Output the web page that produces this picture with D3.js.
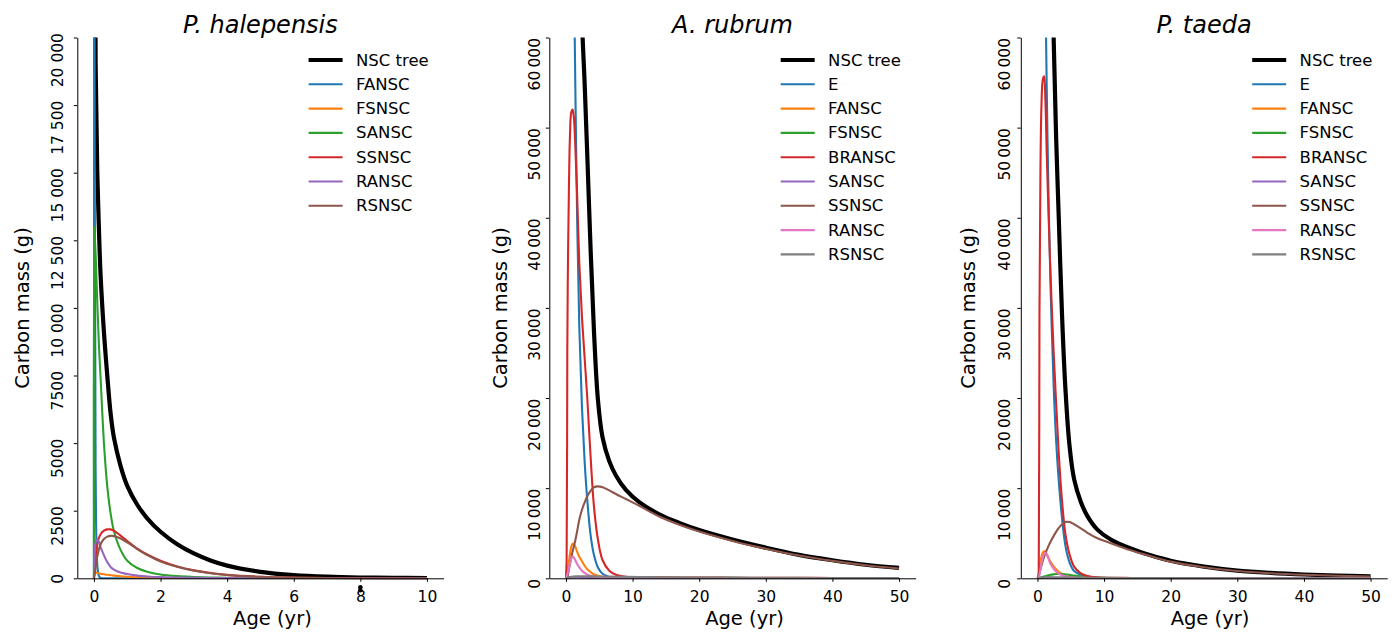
<!DOCTYPE html>
<html><head><meta charset="utf-8">
<script src="https://cdn.jsdelivr.net/npm/d3@7"></script>
<style>body{margin:0;background:#fff} svg{display:block} text{font-family:"DejaVu Sans",sans-serif}</style>
</head><body>
<svg id="chart" width="1394" height="633"></svg>
<script>
// ---------------- DATA ----------------
// P. halepensis
const tHal = [0, 0.01, 0.02, 0.05, 0.1, 0.15, 0.2, 0.3, 0.4, 0.5, 0.6, 0.8, 1, 1.3, 1.6, 2, 2.5, 3, 3.5, 4, 5, 6, 7, 8, 9, 10];
const namesHal = ["NSC tree", "FANSC", "FSNSC", "SANSC", "SSNSC", "RANSC", "RSNSC"];
const halNSCtree = [70000, 45000, 32000, 19000, 15000, 12900, 11200, 9100, 7500, 6100, 5200, 4150, 3420, 2720, 2220, 1720, 1260, 920, 660, 470, 240, 120, 60, 30, 16, 9];
const halFANSC = [0, 40000, 18000, 4000, 500, 80, 10, 0, 0, 0, 0, 0, 0, 0, 0, 0, 0, 0, 0, 0, 0, 0, 0, 0, 0, 0];
const halFSNSC = [0, 120, 180, 220, 200, 185, 170, 150, 130, 115, 100, 75, 55, 35, 22, 12, 6, 3, 2, 1, 0, 0, 0, 0, 0, 0];
const halSANSC = [0, 13000, 12800, 12000, 10200, 8600, 7400, 5000, 3400, 2400, 1750, 1050, 650, 380, 240, 140, 80, 50, 30, 20, 8, 4, 2, 1, 0, 0];
const halSSNSC = [0, 180, 350, 800, 1250, 1500, 1630, 1760, 1810, 1810, 1760, 1580, 1380, 1100, 880, 650, 440, 295, 195, 128, 56, 25, 11, 5, 2, 1];
const halRANSC = [0, 500, 900, 1300, 1420, 1350, 1150, 850, 600, 420, 320, 210, 160, 100, 68, 42, 26, 16, 10, 6, 3, 1, 0, 0, 0, 0];
const halRSNSC = [0, 70, 150, 400, 800, 1080, 1260, 1450, 1540, 1570, 1560, 1470, 1330, 1080, 860, 625, 425, 285, 188, 124, 54, 24, 10, 4, 2, 1];
const halMarkerT = [8, 8];
const halMarkerV = [-330, -440];
const xTicksHal = [0, 2, 4, 6, 8, 10];
const yTicksHal = [0, 2500, 5000, 7500, 10000, 12500, 15000, 17500, 20000];
const yLabelsHal = ["0", "2500", "5000", "7500", "10 000", "12 500", "15 000", "17 500", "20 000"];

// A. rubrum and P. taeda share the time grid
const tLong = [0, 0.1, 0.2, 0.3, 0.45, 0.6, 0.8, 1, 1.2, 1.4, 1.7, 2, 2.4, 2.8, 3.2, 3.7, 4.2, 4.8, 5.5, 6.5, 7.5, 9, 11, 14, 17, 20, 25, 30, 35, 40, 45, 50];
const namesLong = ["NSC tree", "E", "FANSC", "FSNSC", "BRANSC", "SANSC", "SSNSC", "RANSC", "RSNSC"];

const rubNSCtree = [300000, 290000, 280000, 265000, 245000, 220000, 190000, 160000, 133000, 112000, 90000, 76000, 62000, 55000, 47000, 36500, 27500, 19800, 15600, 13000, 11400, 9800, 8450, 7100, 6150, 5350, 4300, 3400, 2600, 2000, 1500, 1150];
const rubE = [280000, 250000, 225000, 200000, 170000, 142000, 112000, 88000, 68000, 55000, 39000, 28000, 19000, 13000, 8700, 4800, 2600, 1200, 500, 150, 45, 8, 0, 0, 0, 0, 0, 0, 0, 0, 0, 0];
const rubFANSC = [0, 200, 600, 1100, 1900, 2700, 3500, 3850, 3800, 3500, 2900, 2400, 1900, 1400, 1000, 700, 450, 280, 160, 90, 60, 40, 30, 25, 20, 18, 15, 13, 11, 10, 9, 8];
const rubFSNSC = [0, 10, 25, 40, 60, 80, 100, 115, 125, 135, 145, 150, 150, 148, 145, 140, 135, 128, 120, 110, 102, 92, 82, 70, 60, 52, 42, 34, 28, 23, 19, 16];
const rubBRANSC = [0, 2000, 25000, 35000, 43500, 49000, 51700, 52000, 51000, 48000, 42000, 35000, 29000, 24500, 20000, 13500, 8000, 4300, 2000, 850, 400, 180, 120, 100, 90, 80, 65, 55, 45, 40, 35, 30];
const rubSANSC = [0, 30, 60, 80, 100, 110, 115, 115, 110, 105, 95, 85, 75, 65, 55, 45, 38, 32, 27, 22, 19, 16, 14, 12, 10, 9, 8, 7, 6, 5, 5, 4];
const rubSSNSC = [0, 0, 100, 400, 1000, 1600, 2300, 3000, 3600, 4200, 5300, 6500, 7600, 8400, 9100, 9700, 10100, 10200, 10100, 9750, 9350, 8800, 8050, 6850, 5950, 5200, 4150, 3280, 2520, 1930, 1450, 1080];
const rubRANSC = [0, 150, 400, 700, 1200, 1700, 2200, 2450, 2300, 2000, 1550, 1200, 850, 600, 420, 280, 200, 140, 100, 75, 60, 50, 45, 40, 37, 35, 30, 27, 24, 21, 19, 17];
const rubRSNSC = [0, 20, 50, 80, 110, 140, 170, 190, 205, 215, 225, 230, 232, 230, 226, 220, 214, 206, 198, 186, 175, 160, 142, 120, 102, 88, 70, 56, 45, 36, 29, 23];

const taeNSCtree = [270000, 250000, 230000, 215000, 200000, 185000, 162000, 142000, 122000, 104000, 87000, 74000, 61000, 49000, 40000, 29000, 21000, 14800, 11000, 8500, 6900, 5400, 4300, 3300, 2550, 1950, 1300, 860, 600, 420, 300, 220];
const taeE = [250000, 225000, 200000, 180000, 155000, 130000, 103000, 82000, 66000, 54000, 41000, 31500, 22000, 15300, 10800, 6600, 3600, 1800, 800, 380, 160, 40, 8, 0, 0, 0, 0, 0, 0, 0, 0, 0];
const taeFANSC = [0, 300, 700, 1100, 1800, 2400, 2850, 3000, 2900, 2700, 2200, 1800, 1350, 1000, 720, 480, 320, 200, 120, 70, 45, 30, 20, 15, 12, 10, 8, 7, 6, 5, 5, 5];
const taeFSNSC = [0, 10, 30, 50, 80, 110, 160, 210, 250, 290, 350, 400, 440, 470, 480, 470, 440, 380, 300, 200, 130, 70, 35, 15, 8, 5, 3, 2, 1, 1, 0, 0];
const taeBRANSC = [0, 0, 2000, 29000, 45400, 52400, 55300, 55700, 52800, 47000, 39500, 33000, 25600, 19500, 13800, 8500, 4900, 2700, 1300, 560, 260, 110, 60, 40, 30, 25, 20, 16, 13, 10, 8, 6];
const taeSANSC = [0, 5, 15, 25, 40, 55, 65, 70, 70, 68, 62, 55, 48, 40, 34, 27, 22, 17, 13, 10, 8, 6, 5, 4, 3, 3, 2, 2, 2, 1, 1, 1];
const taeSSNSC = [0, 100, 300, 550, 1000, 1400, 1950, 2400, 2800, 3150, 3650, 4100, 4650, 5150, 5600, 6000, 6250, 6250, 6000, 5550, 5050, 4450, 3900, 3100, 2450, 1850, 1230, 810, 560, 390, 275, 200];
const taeRANSC = [0, 0, 100, 350, 1000, 1700, 2300, 2700, 2800, 2600, 2100, 1550, 1100, 750, 520, 330, 220, 140, 90, 55, 35, 22, 15, 10, 8, 6, 5, 4, 3, 3, 2, 2];
const taeRSNSC = [0, 5, 15, 30, 50, 70, 90, 105, 115, 120, 125, 125, 122, 118, 113, 106, 100, 92, 84, 74, 66, 56, 46, 36, 29, 23, 16, 11, 8, 6, 4, 3];

const xTicksLong = [0, 10, 20, 30, 40, 50];
const yTicksLong = [0, 10000, 20000, 30000, 40000, 50000, 60000];
const yLabelsLong = ["0", "10\u2009000", "20\u2009000", "30\u2009000", "40\u2009000", "50\u2009000", "60\u2009000"];

const titles = ["P. halepensis", "A. rubrum", "P. taeda"];
const palette = ["#000000", "#1f77b4", "#ff7f0e", "#2ca02c", "#d62728", "#9467bd", "#8c564b", "#e377c2", "#7f7f7f"];

// ---------------- BUILD ----------------
const panels = [
  {title: titles[0], t: tHal, names: namesHal, series: [halNSCtree, halFANSC, halFSNSC, halSANSC, halSSNSC, halRANSC, halRSNSC],
   xDomain: [-0.5, 10.5], yMax: 20000, xTicks: xTicksHal, yTicks: yTicksHal, yLabels: yLabelsHal},
  {title: titles[1], t: tLong, names: namesLong, series: [rubNSCtree, rubE, rubFANSC, rubFSNSC, rubBRANSC, rubSANSC, rubSSNSC, rubRANSC, rubRSNSC],
   xDomain: [-2.5, 52.5], yMax: 60000, xTicks: xTicksLong, yTicks: yTicksLong, yLabels: yLabelsLong},
  {title: titles[2], t: tLong, names: namesLong, series: [taeNSCtree, taeE, taeFANSC, taeFSNSC, taeBRANSC, taeSANSC, taeSSNSC, taeRANSC, taeRSNSC],
   xDomain: [-2.5, 52.5], yMax: 60000, xTicks: xTicksLong, yTicks: yTicksLong, yLabels: yLabelsLong}
];

// layout (positions only)
const frames = [
  {x0: 77.3, x1: 443.6, labDx: 19, labDy: -5, ttlDx: 55, xlabDx: 12},
  {x0: 549.3, x1: 915.7, labDx: 14.5, labDy: 0, ttlDx: 49, xlabDx: 12},
  {x0: 1020.8, x1: 1387.2, labDx: 15.5, labDy: 0, ttlDx: 53, xlabDx: 6}
];
const yTop = 37.5, yBot = 578.3;

const svg = d3.select("#chart");
svg.append("rect").attr("width", 1394).attr("height", 633).attr("fill", "#fff");

panels.forEach((p, pi) => {
  const f = frames[pi];
  const x = d3.scaleLinear().domain(p.xDomain).range([f.x0, f.x1]);
  const y = d3.scaleLinear().domain([0, p.yMax]).range([yBot, yTop]);
  const g = svg.append("g");

  const cid = "clip" + pi;
  svg.append("defs").append("clipPath").attr("id", cid)
    .append("rect").attr("x", f.x0).attr("y", yTop).attr("width", f.x1 - f.x0).attr("height", yBot - yTop + 1);

  const lines = g.append("g").attr("clip-path", `url(#${cid})`);
  p.series.forEach((vals, si) => {
    const line = d3.line()
      .x((d, i) => x(p.t[i]))
      .y(d => y(d))
      .curve(d3.curveCatmullRom.alpha(0.5));
    lines.append("path")
      .attr("d", line(vals))
      .attr("fill", "none")
      .attr("stroke", palette[si])
      .attr("stroke-width", si === 0 ? 4.2 : 2.1)
      .attr("stroke-linejoin", "round");
  });

  if (pi === 0) {
    halMarkerT.forEach((tv, i) => {
      g.append("circle").attr("cx", x(tv)).attr("cy", y(halMarkerV[i])).attr("r", 2.3).attr("fill", "#000");
    });
  }

  // x axis
  const xa = g.append("g").attr("transform", `translate(0,${yBot})`)
    .call(d3.axisBottom(x).tickValues(p.xTicks).tickFormat(d3.format("d")).tickSize(3.5).tickSizeOuter(0));
  xa.select(".domain").attr("stroke", "#000").attr("stroke-width", 1);
  xa.selectAll(".tick line").attr("stroke", "#000").attr("stroke-width", 1);
  xa.selectAll(".tick text").attr("y", 23.8).attr("dy", null)
    .attr("font-size", "15.5px").attr("fill", "#000").style("font-family", "DejaVu Sans");

  // y axis
  const ya = g.append("g").attr("transform", `translate(${f.x0},0)`)
    .call(d3.axisLeft(y).tickValues(p.yTicks).tickFormat((d, i) => p.yLabels[i]).tickSize(3.5).tickSizeOuter(0));
  ya.select(".domain").attr("stroke", "#000").attr("stroke-width", 1);
  ya.selectAll(".tick line").attr("stroke", "#000").attr("stroke-width", 1);
  ya.selectAll(".tick text")
    .attr("x", null).attr("dy", null)
    .attr("transform", `translate(${-f.labDx},${f.labDy}) rotate(-90)`)
    .attr("text-anchor", "end")
    .attr("dominant-baseline", "central")
    .attr("font-size", "15.5px").attr("fill", "#000").style("font-family", "DejaVu Sans");

  const cx = (f.x0 + f.x1) / 2;
  // axis titles
  g.append("text").attr("x", cx + f.xlabDx).attr("y", 625).attr("text-anchor", "middle")
    .attr("font-size", "19.5px").attr("fill", "#000").text("Age (yr)");
  g.append("text").attr("transform", `translate(${f.x0 - f.ttlDx + 7},308) rotate(-90)`)
    .attr("text-anchor", "middle").attr("font-size", "19.5px").attr("fill", "#000").text("Carbon mass (g)");
  // title
  g.append("text").attr("x", cx).attr("y", 33).attr("text-anchor", "middle")
    .attr("font-size", "24px").attr("font-style", "italic").attr("fill", "#000").text(p.title);

  // legend
  const lg = g.append("g");
  p.names.forEach((nm, i) => {
    const ry = 60 + i * 24.3;
    lg.append("line").attr("x1", f.x1 - 135).attr("x2", f.x1 - 101).attr("y1", ry).attr("y2", ry)
      .attr("stroke", palette[i]).attr("stroke-width", i === 0 ? 4.2 : 2.1);
    lg.append("text").attr("x", f.x1 - 87.6).attr("y", ry).attr("dominant-baseline", "central")
      .attr("font-size", "16.5px").attr("fill", "#000").text(nm);
  });
});
</script>
</body></html>
